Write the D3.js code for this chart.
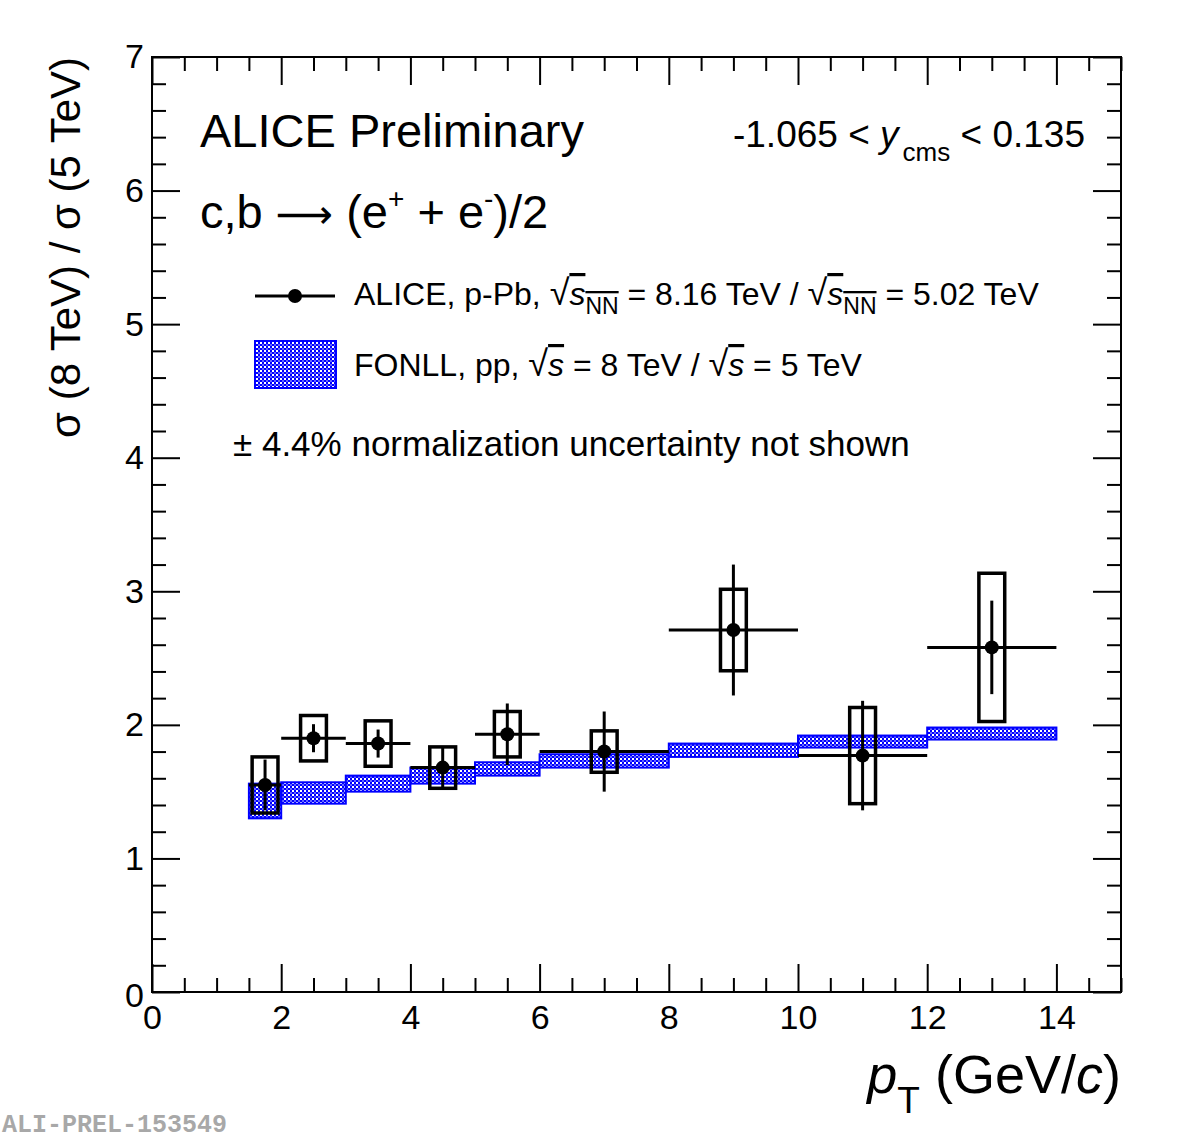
<!DOCTYPE html>
<html lang="en">
<head>
  <meta charset="UTF-8">
  <title>ALICE ratio 8 TeV / 5 TeV</title>
  <script src="https://cdn.jsdelivr.net/npm/d3@7"></script>
  <style>
    body { margin: 0; background: white; }
    svg { font-family: "Liberation Sans", Arial, sans-serif; }
  </style>
</head>
<body>
  <svg id="chart" width="1182" height="1142"></svg>
  <script>
    // pT bins and measured ratio
    let binLo = [1.5, 2, 3, 4, 5, 6, 8, 10, 12];
    let binHi = [2, 3, 4, 5, 6, 8, 10, 12, 14];
    let ptCenter = [1.75, 2.5, 3.5, 4.5, 5.5, 7, 9, 11, 13];
    let ratio = [1.55, 1.90, 1.86, 1.68, 1.93, 1.80, 2.71, 1.77, 2.58];
    let statErr = [0.19, 0.105, 0.105, 0.155, 0.23, 0.30, 0.49, 0.41, 0.35];
    let sysErr = [0.21, 0.17, 0.17, 0.155, 0.17, 0.155, 0.305, 0.36, 0.555];
    // FONLL band
    let fonllLo = [1.30, 1.41, 1.50, 1.56, 1.62, 1.68, 1.76, 1.83, 1.89];
    let fonllHi = [1.56, 1.57, 1.62, 1.68, 1.72, 1.78, 1.86, 1.92, 1.98];
    // axis ticks
    let xMajor = [0, 2, 4, 6, 8, 10, 12, 14];
    let yMajor = [0, 1, 2, 3, 4, 5, 6, 7];

    let svg = d3.select('#chart');
    let padL = 152, padR = 1121, padT = 57, padB = 992;

    let x = d3.scaleLinear().domain([0, 15]).range([padL, padR]);
    let y = d3.scaleLinear().domain([0, 7]).range([padB, padT]);

    // checker pattern for FONLL
    let defs = svg.append('defs');
    let pat = defs.append('pattern')
      .attr('id', 'checker')
      .attr('width', 4).attr('height', 4)
      .attr('patternUnits', 'userSpaceOnUse');
    pat.append('rect').attr('width', 4).attr('height', 4).attr('fill', 'white');
    pat.append('rect').attr('x', 0).attr('y', 0).attr('width', 2).attr('height', 2).attr('fill', '#0000ff');
    pat.append('rect').attr('x', 2).attr('y', 2).attr('width', 2).attr('height', 2).attr('fill', '#0000ff');
    pat.append('rect').attr('x', 2).attr('y', 0).attr('width', 2).attr('height', 2).attr('fill', '#6666ff');

    // axes (ticks inside, on all four sides)
    let xMinor = d3.range(0, 15.01, 0.5).filter(v => !xMajor.includes(v));
    let yMinor = d3.range(0, 7.01, 0.2).map(v => +v.toFixed(1)).filter(v => !yMajor.includes(v));

    function axisGroup(axis, tx, ty) {
      let g = svg.append('g')
        .attr('transform', 'translate(' + tx + ',' + ty + ')')
        .call(axis);
      g.select('.domain').remove();
      g.selectAll('line').attr('stroke', 'black').attr('stroke-width', 2);
      return g;
    }

    let bx = axisGroup(d3.axisBottom(x).tickValues(xMajor).tickSize(-28).tickPadding(26).tickFormat(d3.format('d')), 0, padB);
    bx.selectAll('text').attr('font-size', 34).attr('font-family', 'Liberation Sans').attr('fill', 'black').attr('dy', '0.32em');
    axisGroup(d3.axisBottom(x).tickValues(xMinor).tickSize(-14).tickFormat(''), 0, padB);
    axisGroup(d3.axisTop(x).tickValues(xMajor).tickSize(-28).tickFormat(''), 0, padT);
    axisGroup(d3.axisTop(x).tickValues(xMinor).tickSize(-14).tickFormat(''), 0, padT);

    let ly = axisGroup(d3.axisLeft(y).tickValues(yMajor).tickSize(-28).tickPadding(8).tickFormat(d3.format('d')), padL, 0);
    ly.selectAll('text').attr('font-size', 34).attr('font-family', 'Liberation Sans').attr('fill', 'black');
    ly.selectAll('.tick text').attr('dy', d => d === 0 ? '0.42em' : '0.32em');
    axisGroup(d3.axisLeft(y).tickValues(yMinor).tickSize(-14).tickFormat(''), padL, 0);
    axisGroup(d3.axisRight(y).tickValues(yMajor).tickSize(-28).tickFormat(''), padR, 0);
    axisGroup(d3.axisRight(y).tickValues(yMinor).tickSize(-14).tickFormat(''), padR, 0);

    // frame
    svg.append('rect')
      .attr('x', padL).attr('y', padT)
      .attr('width', padR - padL).attr('height', padB - padT)
      .attr('fill', 'none').attr('stroke', 'black').attr('stroke-width', 2);

    // FONLL band
    svg.append('g').selectAll('rect')
      .data(binLo)
      .enter()
      .append('rect')
      .attr('x', (d, i) => x(binLo[i]))
      .attr('width', (d, i) => x(binHi[i]) - x(binLo[i]))
      .attr('y', (d, i) => y(fonllHi[i]))
      .attr('height', (d, i) => y(fonllLo[i]) - y(fonllHi[i]))
      .attr('fill', 'url(#checker)')
      .attr('stroke', '#0000ff')
      .attr('stroke-width', 2);

    // data points
    let pts = svg.append('g').selectAll('g')
      .data(ratio)
      .enter()
      .append('g');
    // systematic boxes
    pts.append('rect')
      .attr('x', (d, i) => x(ptCenter[i] - 0.2))
      .attr('width', (d, i) => x(ptCenter[i] + 0.2) - x(ptCenter[i] - 0.2))
      .attr('y', (d, i) => y(d + sysErr[i]))
      .attr('height', (d, i) => y(d - sysErr[i]) - y(d + sysErr[i]))
      .attr('fill', 'none')
      .attr('stroke', 'black')
      .attr('stroke-width', 3.5);
    // horizontal bin width
    pts.append('line')
      .attr('x1', (d, i) => x(binLo[i]))
      .attr('x2', (d, i) => x(binHi[i]))
      .attr('y1', d => y(d))
      .attr('y2', d => y(d))
      .attr('stroke', 'black')
      .attr('stroke-width', 3);
    // statistical error
    pts.append('line')
      .attr('x1', (d, i) => x(ptCenter[i]))
      .attr('x2', (d, i) => x(ptCenter[i]))
      .attr('y1', (d, i) => y(d + statErr[i]))
      .attr('y2', (d, i) => y(d - statErr[i]))
      .attr('stroke', 'black')
      .attr('stroke-width', 3);
    pts.append('circle')
      .attr('cx', (d, i) => x(ptCenter[i]))
      .attr('cy', d => y(d))
      .attr('r', 7)
      .attr('fill', 'black');

    // texts
    svg.append('text').attr('x', 200).attr('y', 147)
      .attr('font-size', 47).text('ALICE Preliminary');

    let t2 = svg.append('text').attr('x', 200).attr('y', 228).attr('font-size', 47);
    t2.append('tspan').text('c,b ');
    t2.append('tspan').attr('font-family', 'DejaVu Sans').attr('font-size', 40).text('\u27F6');
    t2.append('tspan').text(' (e');
    t2.append('tspan').attr('font-size', 28).attr('dy', -20).text('+');
    t2.append('tspan').attr('dy', 20).text(' + e');
    t2.append('tspan').attr('font-size', 28).attr('dy', -20).text('-');
    t2.append('tspan').attr('dy', 20).text(')/2');

    let t3 = svg.append('text').attr('x', 1085).attr('y', 147)
      .attr('font-size', 37).attr('text-anchor', 'end');
    t3.append('tspan').text('-1.065 < ');
    t3.append('tspan').attr('font-style', 'italic').text('y');
    t3.append('tspan').attr('font-size', 26).attr('dy', 14).attr('dx', 4).text('cms');
    t3.append('tspan').attr('dy', -14).text(' < 0.135');

    // legend
    svg.append('line').attr('x1', 255).attr('x2', 335).attr('y1', 296).attr('y2', 296)
      .attr('stroke', 'black').attr('stroke-width', 3);
    svg.append('circle').attr('cx', 295).attr('cy', 296).attr('r', 7).attr('fill', 'black');
    svg.append('rect').attr('x', 255).attr('y', 341).attr('width', 81).attr('height', 47)
      .attr('fill', 'url(#checker)').attr('stroke', '#0000ff').attr('stroke-width', 2);

    function sqrtS(sel, sub) {
      sel.append('tspan').attr('font-size', 36).text('\u221A');
      let s = sel.append('tspan').style('text-decoration', 'overline');
      s.append('tspan').attr('font-style', 'italic').text('s');
      if (sub) {
        s.append('tspan').attr('font-size', 23).attr('dy', 9).text('NN');
        sel.append('tspan').attr('dy', -9).text(' ');
      }
    }

    let l1 = svg.append('text').attr('x', 354).attr('y', 305).attr('font-size', 32);
    l1.append('tspan').text('ALICE, p-Pb, ');
    sqrtS(l1, 'NN');
    l1.append('tspan').text('= 8.16 TeV / ');
    sqrtS(l1, 'NN');
    l1.append('tspan').text('= 5.02 TeV');

    let l2 = svg.append('text').attr('x', 354).attr('y', 376).attr('font-size', 32);
    l2.append('tspan').text('FONLL, pp, ');
    sqrtS(l2, null);
    l2.append('tspan').text(' = 8 TeV / ');
    sqrtS(l2, null);
    l2.append('tspan').text(' = 5 TeV');

    svg.append('text').attr('x', 233).attr('y', 456).attr('font-size', 35)
      .text('\u00B1 4.4% normalization uncertainty not shown');

    // axis titles
    svg.append('text')
      .attr('transform', 'translate(80,57) rotate(-90)')
      .attr('text-anchor', 'end')
      .attr('font-size', 42)
      .text('\u03C3 (8 TeV) / \u03C3 (5 TeV)');

    let xt = svg.append('text').attr('x', 1121).attr('y', 1093)
      .attr('text-anchor', 'end').attr('font-size', 54);
    xt.append('tspan').attr('font-style', 'italic').text('p');
    xt.append('tspan').attr('font-size', 37).attr('dy', 20).text('T');
    xt.append('tspan').attr('dy', -20).text(' (GeV/');
    xt.append('tspan').attr('font-style', 'italic').text('c');
    xt.append('tspan').text(')');

    svg.append('text').attr('x', 2).attr('y', 1132)
      .attr('font-family', 'Liberation Mono, DejaVu Sans Mono, monospace')
      .attr('font-weight', 'bold').attr('font-size', 25).attr('fill', '#a8a8a8')
      .text('ALI-PREL-153549');
  </script>
</body>
</html>
